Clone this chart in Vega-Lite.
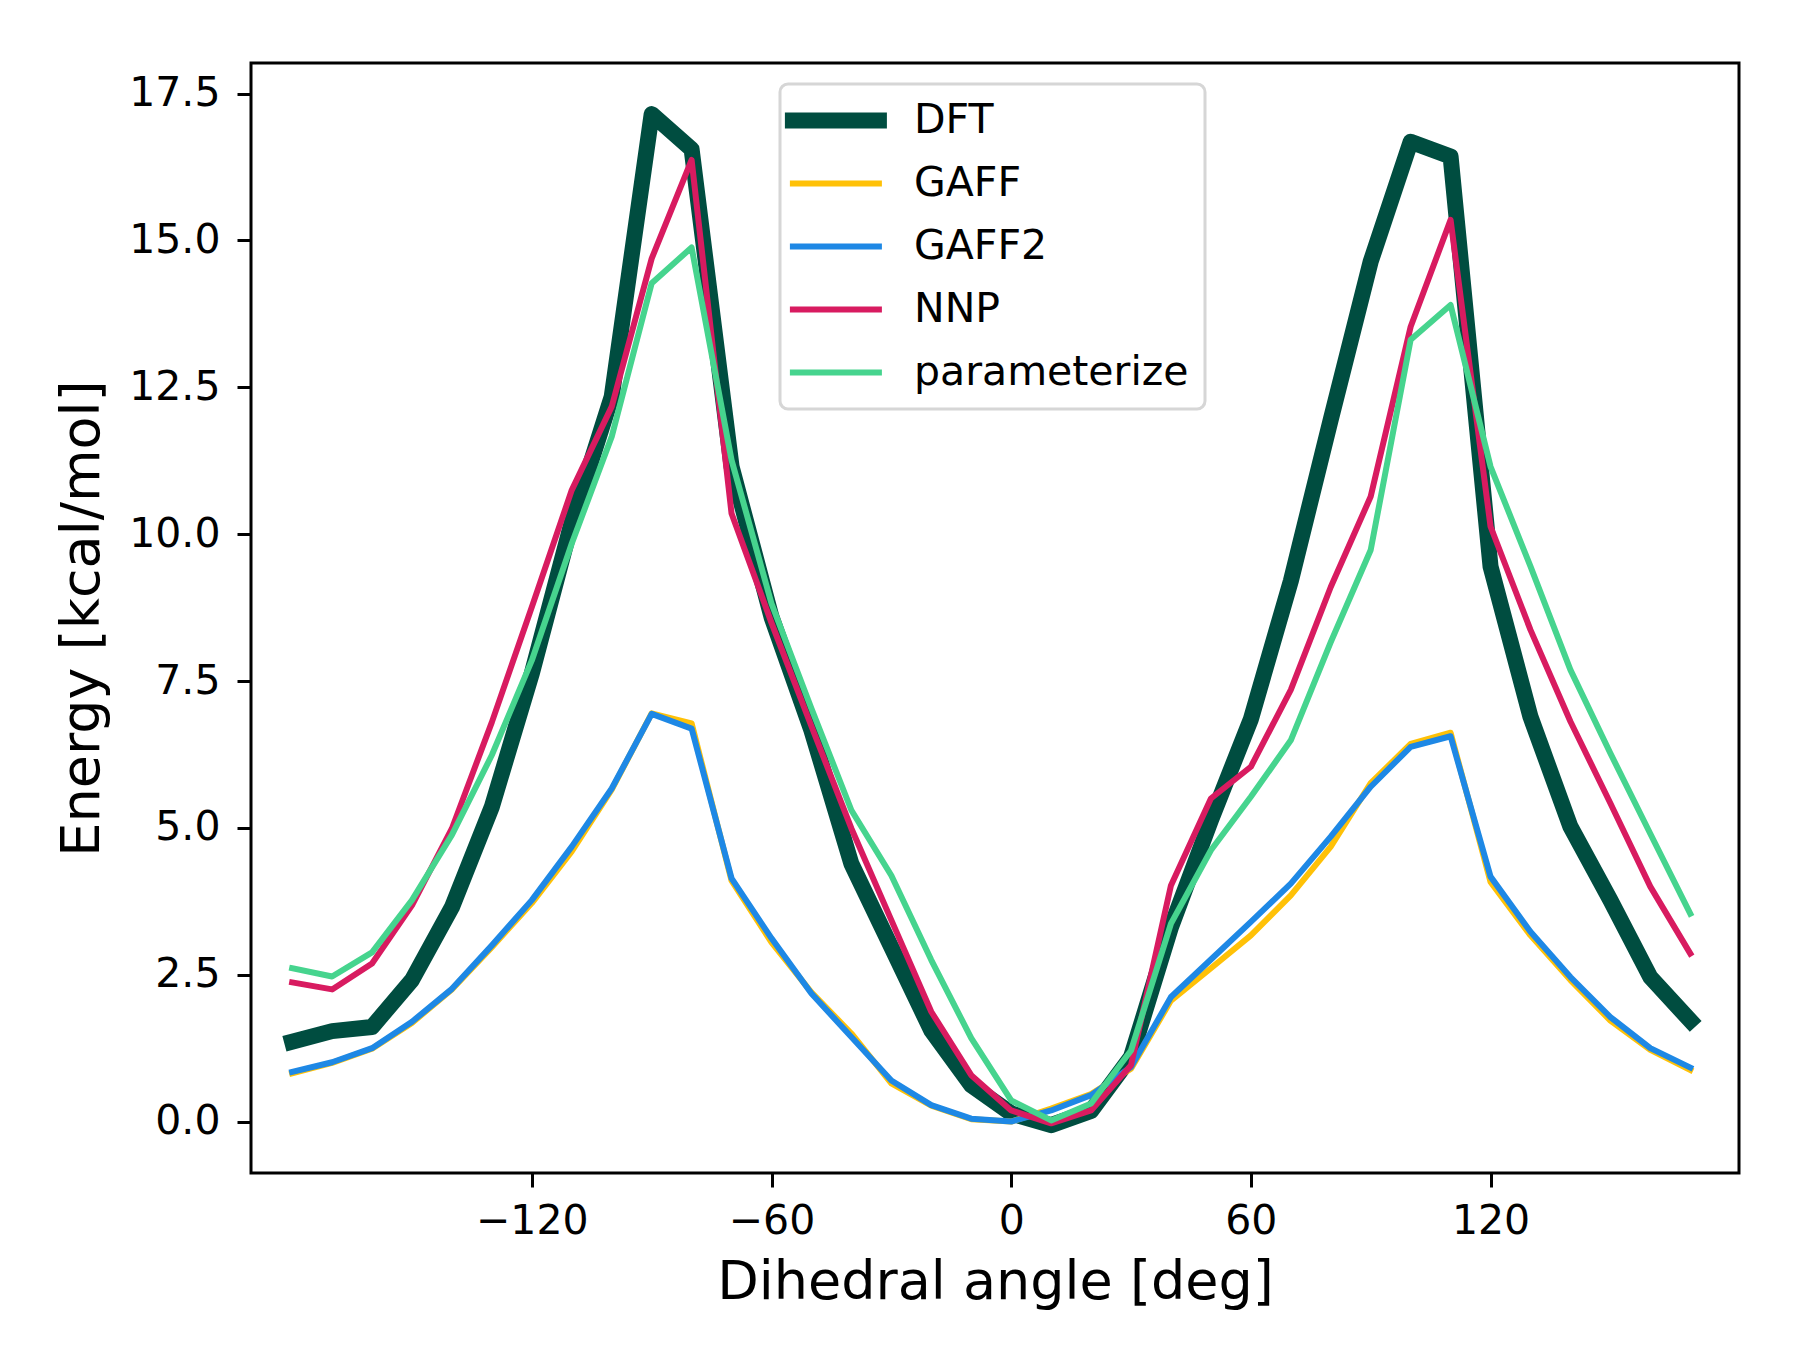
{
  "$schema": "https://vega.github.io/schema/vega-lite/v6.json",
  "width": 1488,
  "height": 1110,
  "autosize": {"type": "none"},
  "padding": {"left": 251, "top": 63, "right": 63, "bottom": 199},
  "background": "white",
  "view": {"stroke": "black", "strokeWidth": 3},
  "config": {
    "font": "DejaVu Sans",
    "axis": {"grid": false, "domain": false, "tickColor": "black", "tickWidth": 3, "tickSize": 14,
             "labelFont": "DejaVu Sans", "labelFontSize": 41, "labelColor": "black",
             "titleFont": "DejaVu Sans", "titleFontSize": 54, "titleFontWeight": "normal", "titleColor": "black"},
    "legend": {"labelFont": "DejaVu Sans"}
  },
  "data": {"values": [
    {"angle": -180, "method": "DFT", "energy": 1.36}, {"angle": -170, "method": "DFT", "energy": 1.54},
    {"angle": -160, "method": "DFT", "energy": 1.61}, {"angle": -150, "method": "DFT", "energy": 2.41},
    {"angle": -140, "method": "DFT", "energy": 3.65}, {"angle": -130, "method": "DFT", "energy": 5.36},
    {"angle": -120, "method": "DFT", "energy": 7.63}, {"angle": -110, "method": "DFT", "energy": 10.2},
    {"angle": -100, "method": "DFT", "energy": 12.34}, {"angle": -90, "method": "DFT", "energy": 17.15},
    {"angle": -80, "method": "DFT", "energy": 16.55}, {"angle": -70, "method": "DFT", "energy": 11.15},
    {"angle": -60, "method": "DFT", "energy": 8.59}, {"angle": -50, "method": "DFT", "energy": 6.66},
    {"angle": -40, "method": "DFT", "energy": 4.39}, {"angle": -30, "method": "DFT", "energy": 2.97},
    {"angle": -20, "method": "DFT", "energy": 1.55}, {"angle": -10, "method": "DFT", "energy": 0.62},
    {"angle": 0, "method": "DFT", "energy": 0.14}, {"angle": 10, "method": "DFT", "energy": -0.06},
    {"angle": 20, "method": "DFT", "energy": 0.18}, {"angle": 30, "method": "DFT", "energy": 1.1},
    {"angle": 40, "method": "DFT", "energy": 3.31}, {"angle": 50, "method": "DFT", "energy": 5.13},
    {"angle": 60, "method": "DFT", "energy": 6.85}, {"angle": 70, "method": "DFT", "energy": 9.2},
    {"angle": 80, "method": "DFT", "energy": 11.95}, {"angle": 90, "method": "DFT", "energy": 14.64},
    {"angle": 100, "method": "DFT", "energy": 16.68}, {"angle": 110, "method": "DFT", "energy": 16.43},
    {"angle": 120, "method": "DFT", "energy": 9.45}, {"angle": 130, "method": "DFT", "energy": 6.89},
    {"angle": 140, "method": "DFT", "energy": 5.02}, {"angle": 150, "method": "DFT", "energy": 3.77},
    {"angle": 160, "method": "DFT", "energy": 2.46}, {"angle": 170, "method": "DFT", "energy": 1.72},

    {"angle": -180, "method": "GAFF", "energy": 0.82}, {"angle": -170, "method": "GAFF", "energy": 1.0},
    {"angle": -160, "method": "GAFF", "energy": 1.24}, {"angle": -150, "method": "GAFF", "energy": 1.68},
    {"angle": -140, "method": "GAFF", "energy": 2.25}, {"angle": -130, "method": "GAFF", "energy": 2.97},
    {"angle": -120, "method": "GAFF", "energy": 3.72}, {"angle": -110, "method": "GAFF", "energy": 4.6},
    {"angle": -100, "method": "GAFF", "energy": 5.65}, {"angle": -90, "method": "GAFF", "energy": 6.95},
    {"angle": -80, "method": "GAFF", "energy": 6.78}, {"angle": -70, "method": "GAFF", "energy": 4.1},
    {"angle": -60, "method": "GAFF", "energy": 3.05}, {"angle": -50, "method": "GAFF", "energy": 2.2},
    {"angle": -40, "method": "GAFF", "energy": 1.5}, {"angle": -30, "method": "GAFF", "energy": 0.65},
    {"angle": -20, "method": "GAFF", "energy": 0.27}, {"angle": -10, "method": "GAFF", "energy": 0.04},
    {"angle": 0, "method": "GAFF", "energy": 0.0}, {"angle": 10, "method": "GAFF", "energy": 0.22},
    {"angle": 20, "method": "GAFF", "energy": 0.47}, {"angle": 30, "method": "GAFF", "energy": 0.9},
    {"angle": 40, "method": "GAFF", "energy": 2.06}, {"angle": 50, "method": "GAFF", "energy": 2.61},
    {"angle": 60, "method": "GAFF", "energy": 3.17}, {"angle": 70, "method": "GAFF", "energy": 3.85},
    {"angle": 80, "method": "GAFF", "energy": 4.68}, {"angle": 90, "method": "GAFF", "energy": 5.76},
    {"angle": 100, "method": "GAFF", "energy": 6.43}, {"angle": 110, "method": "GAFF", "energy": 6.62},
    {"angle": 120, "method": "GAFF", "energy": 4.08}, {"angle": 130, "method": "GAFF", "energy": 3.17},
    {"angle": 140, "method": "GAFF", "energy": 2.41}, {"angle": 150, "method": "GAFF", "energy": 1.72},
    {"angle": 160, "method": "GAFF", "energy": 1.22}, {"angle": 170, "method": "GAFF", "energy": 0.88},

    {"angle": -180, "method": "GAFF2", "energy": 0.845}, {"angle": -170, "method": "GAFF2", "energy": 1.01},
    {"angle": -160, "method": "GAFF2", "energy": 1.25}, {"angle": -150, "method": "GAFF2", "energy": 1.7},
    {"angle": -140, "method": "GAFF2", "energy": 2.26}, {"angle": -130, "method": "GAFF2", "energy": 3.0},
    {"angle": -120, "method": "GAFF2", "energy": 3.77}, {"angle": -110, "method": "GAFF2", "energy": 4.68},
    {"angle": -100, "method": "GAFF2", "energy": 5.67}, {"angle": -90, "method": "GAFF2", "energy": 6.94},
    {"angle": -80, "method": "GAFF2", "energy": 6.69}, {"angle": -70, "method": "GAFF2", "energy": 4.14},
    {"angle": -60, "method": "GAFF2", "energy": 3.12}, {"angle": -50, "method": "GAFF2", "energy": 2.18},
    {"angle": -40, "method": "GAFF2", "energy": 1.44}, {"angle": -30, "method": "GAFF2", "energy": 0.7},
    {"angle": -20, "method": "GAFF2", "energy": 0.28}, {"angle": -10, "method": "GAFF2", "energy": 0.05},
    {"angle": 0, "method": "GAFF2", "energy": 0.0}, {"angle": 10, "method": "GAFF2", "energy": 0.19},
    {"angle": 20, "method": "GAFF2", "energy": 0.45}, {"angle": 30, "method": "GAFF2", "energy": 0.93},
    {"angle": 40, "method": "GAFF2", "energy": 2.12}, {"angle": 50, "method": "GAFF2", "energy": 2.76},
    {"angle": 60, "method": "GAFF2", "energy": 3.4}, {"angle": 70, "method": "GAFF2", "energy": 4.05},
    {"angle": 80, "method": "GAFF2", "energy": 4.85}, {"angle": 90, "method": "GAFF2", "energy": 5.7},
    {"angle": 100, "method": "GAFF2", "energy": 6.38}, {"angle": 110, "method": "GAFF2", "energy": 6.56},
    {"angle": 120, "method": "GAFF2", "energy": 4.17}, {"angle": 130, "method": "GAFF2", "energy": 3.23},
    {"angle": 140, "method": "GAFF2", "energy": 2.46}, {"angle": 150, "method": "GAFF2", "energy": 1.78},
    {"angle": 160, "method": "GAFF2", "energy": 1.25}, {"angle": 170, "method": "GAFF2", "energy": 0.92},

    {"angle": -180, "method": "NNP", "energy": 2.37}, {"angle": -170, "method": "NNP", "energy": 2.25},
    {"angle": -160, "method": "NNP", "energy": 2.69}, {"angle": -150, "method": "NNP", "energy": 3.68},
    {"angle": -140, "method": "NNP", "energy": 4.99}, {"angle": -130, "method": "NNP", "energy": 6.8},
    {"angle": -120, "method": "NNP", "energy": 8.76}, {"angle": -110, "method": "NNP", "energy": 10.75},
    {"angle": -100, "method": "NNP", "energy": 12.17}, {"angle": -90, "method": "NNP", "energy": 14.69},
    {"angle": -80, "method": "NNP", "energy": 16.37}, {"angle": -70, "method": "NNP", "energy": 10.35},
    {"angle": -60, "method": "NNP", "energy": 8.49}, {"angle": -50, "method": "NNP", "energy": 6.73},
    {"angle": -40, "method": "NNP", "energy": 4.99}, {"angle": -30, "method": "NNP", "energy": 3.43},
    {"angle": -20, "method": "NNP", "energy": 1.87}, {"angle": -10, "method": "NNP", "energy": 0.79},
    {"angle": 0, "method": "NNP", "energy": 0.19}, {"angle": 10, "method": "NNP", "energy": -0.03},
    {"angle": 20, "method": "NNP", "energy": 0.19}, {"angle": 30, "method": "NNP", "energy": 0.96},
    {"angle": 40, "method": "NNP", "energy": 4.02}, {"angle": 50, "method": "NNP", "energy": 5.5},
    {"angle": 60, "method": "NNP", "energy": 6.04}, {"angle": 70, "method": "NNP", "energy": 7.35},
    {"angle": 80, "method": "NNP", "energy": 9.1}, {"angle": 90, "method": "NNP", "energy": 10.64},
    {"angle": 100, "method": "NNP", "energy": 13.53}, {"angle": 110, "method": "NNP", "energy": 15.35},
    {"angle": 120, "method": "NNP", "energy": 10.13}, {"angle": 130, "method": "NNP", "energy": 8.37},
    {"angle": 140, "method": "NNP", "energy": 6.81}, {"angle": 150, "method": "NNP", "energy": 5.42},
    {"angle": 160, "method": "NNP", "energy": 4.0}, {"angle": 170, "method": "NNP", "energy": 2.86},

    {"angle": -180, "method": "parameterize", "energy": 2.61}, {"angle": -170, "method": "parameterize", "energy": 2.47},
    {"angle": -160, "method": "parameterize", "energy": 2.88}, {"angle": -150, "method": "parameterize", "energy": 3.77},
    {"angle": -140, "method": "parameterize", "energy": 4.88}, {"angle": -130, "method": "parameterize", "energy": 6.24},
    {"angle": -120, "method": "parameterize", "energy": 7.85}, {"angle": -110, "method": "parameterize", "energy": 9.84},
    {"angle": -100, "method": "parameterize", "energy": 11.66}, {"angle": -90, "method": "parameterize", "energy": 14.27},
    {"angle": -80, "method": "parameterize", "energy": 14.88}, {"angle": -70, "method": "parameterize", "energy": 11.26},
    {"angle": -60, "method": "parameterize", "energy": 8.82}, {"angle": -50, "method": "parameterize", "energy": 7.03},
    {"angle": -40, "method": "parameterize", "energy": 5.3}, {"angle": -30, "method": "parameterize", "energy": 4.19},
    {"angle": -20, "method": "parameterize", "energy": 2.75}, {"angle": -10, "method": "parameterize", "energy": 1.42},
    {"angle": 0, "method": "parameterize", "energy": 0.36}, {"angle": 10, "method": "parameterize", "energy": 0.02},
    {"angle": 20, "method": "parameterize", "energy": 0.31}, {"angle": 30, "method": "parameterize", "energy": 1.21},
    {"angle": 40, "method": "parameterize", "energy": 3.37}, {"angle": 50, "method": "parameterize", "energy": 4.62},
    {"angle": 60, "method": "parameterize", "energy": 5.53}, {"angle": 70, "method": "parameterize", "energy": 6.49},
    {"angle": 80, "method": "parameterize", "energy": 8.16}, {"angle": 90, "method": "parameterize", "energy": 9.73},
    {"angle": 100, "method": "parameterize", "energy": 13.31}, {"angle": 110, "method": "parameterize", "energy": 13.9},
    {"angle": 120, "method": "parameterize", "energy": 11.15}, {"angle": 130, "method": "parameterize", "energy": 9.45},
    {"angle": 140, "method": "parameterize", "energy": 7.69}, {"angle": 150, "method": "parameterize", "energy": 6.27},
    {"angle": 160, "method": "parameterize", "energy": 4.9}, {"angle": 170, "method": "parameterize", "energy": 3.54}
  ]},
  "mark": {"type": "line", "strokeJoin": "round", "strokeCap": "square", "clip": true},
  "encoding": {
    "x": {"field": "angle", "type": "quantitative",
          "scale": {"domain": [-190.3, 182.2], "nice": false, "zero": false},
          "axis": {"values": [-120, -60, 0, 60, 120], "labelPadding": 14, "title": "Dihedral angle [deg]", "titlePadding": 14}},
    "y": {"field": "energy", "type": "quantitative",
          "scale": {"domain": [-0.875, 18.02], "nice": false, "zero": false},
          "axis": {"values": [0, 2.5, 5, 7.5, 10, 12.5, 15, 17.5], "format": ".1f", "labelPadding": 17,
                   "title": "Energy [kcal/mol]", "titlePadding": 19}},
    "color": {"field": "method", "type": "nominal",
              "scale": {"domain": ["DFT", "GAFF", "GAFF2", "NNP", "parameterize"],
                        "range": ["#004D40", "#FFC107", "#1E88E5", "#D81B60", "#46D48E"]},
              "legend": {"title": null, "orient": "none", "legendX": 529, "legendY": 21,
                         "symbolType": "M-5.9,0H15.6", "symbolSize": 64, "labelFontSize": 41, "labelColor": "black",
                         "labelLimit": 0, "labelOffset": 77, "rowPadding": 21, "padding": 16, "cornerRadius": 8,
                         "strokeColor": "#d6d6d6", "fillColor": "rgba(255,255,255,0.8)",
                         "encode": {"legend": {"update": {"strokeWidth": {"value": 3}}},
                                    "symbols": {"update": {"strokeJoin": {"value": "round"}, "strokeCap": {"value": "square"}}}}}},
    "strokeWidth": {"field": "method", "type": "nominal",
                    "scale": {"type": "ordinal", "domain": ["DFT", "GAFF", "GAFF2", "NNP", "parameterize"], "range": [16, 6, 6, 6, 6]},
                    "legend": {"title": null, "orient": "none", "legendX": 529, "legendY": 21,
                               "symbolType": "M-5.9,0H15.6", "symbolSize": 64, "labelFontSize": 41, "labelColor": "black",
                               "labelLimit": 0, "labelOffset": 77, "rowPadding": 21, "padding": 16, "cornerRadius": 8,
                               "strokeColor": "#d6d6d6", "fillColor": "rgba(255,255,255,0.8)",
                               "encode": {"legend": {"update": {"strokeWidth": {"value": 3}}},
                                          "symbols": {"update": {"strokeJoin": {"value": "round"}, "strokeCap": {"value": "square"}}}}}}
  }
}
